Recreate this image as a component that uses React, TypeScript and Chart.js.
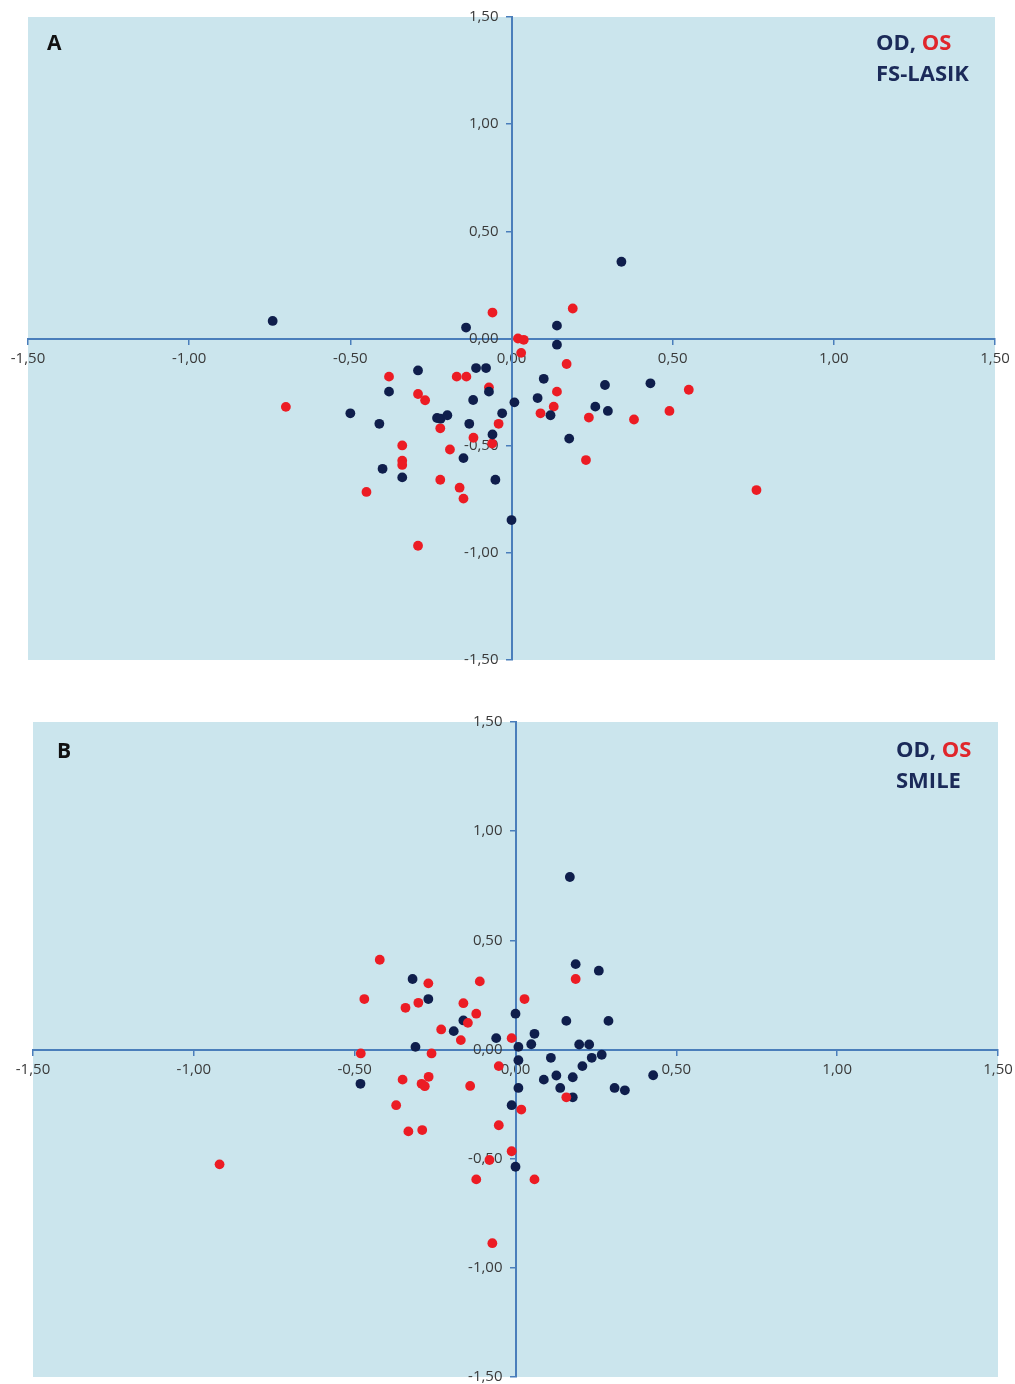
import React, { useEffect, useRef } from "react";
import { Chart, registerables } from "chart.js";

Chart.register(...registerables);

// ---------- Data ----------
const axisTicks = [-1.5, -1.0, -0.5, 0, 0.5, 1.0, 1.5];

// Panel A: FS-LASIK
const lasikOD_x = [-0.741, -0.141, -0.29, -0.11, -0.079, -0.38, -0.119, -0.07, 0.009, -0.5, -0.41, -0.231, -0.22, -0.199, -0.131, -0.029, -0.059, -0.149, -0.4, -0.339, -0.05, 0.0, 0.341, 0.141, 0.141, 0.1, 0.29, 0.431, 0.081, 0.26, 0.299, 0.121, 0.179];
const lasikOD_y = [0.082, 0.051, -0.149, -0.138, -0.138, -0.248, -0.287, -0.248, -0.298, -0.349, -0.398, -0.371, -0.374, -0.358, -0.398, -0.349, -0.448, -0.558, -0.608, -0.648, -0.659, -0.847, 0.358, 0.06, -0.029, -0.188, -0.217, -0.209, -0.278, -0.318, -0.338, -0.358, -0.467];
const lasikOS_x = [-0.059, 0.02, 0.038, 0.03, -0.38, -0.17, -0.14, -0.7, -0.29, -0.268, -0.07, -0.221, -0.04, -0.339, -0.118, -0.06, -0.191, -0.339, -0.339, -0.221, -0.161, -0.149, -0.45, -0.29, 0.19, 0.171, 0.141, 0.131, 0.09, 0.24, 0.38, 0.49, 0.55, 0.231, 0.76];
const lasikOS_y = [0.121, 0.0, -0.006, -0.067, -0.178, -0.178, -0.178, -0.319, -0.259, -0.288, -0.228, -0.419, -0.398, -0.499, -0.463, -0.49, -0.518, -0.57, -0.59, -0.659, -0.696, -0.747, -0.716, -0.967, 0.14, -0.119, -0.248, -0.318, -0.349, -0.369, -0.378, -0.338, -0.239, -0.567, -0.707];

// Panel B: SMILE
const smileOD_x = [-0.32, -0.271, -0.162, -0.192, -0.06, -0.311, -0.482, 0.0, 0.009, 0.009, 0.009, -0.012, 0.0, 0.049, 0.059, 0.169, 0.187, 0.259, 0.158, 0.289, 0.198, 0.229, 0.268, 0.237, 0.11, 0.208, 0.127, 0.088, 0.178, 0.428, 0.139, 0.308, 0.34, 0.178];
const smileOD_y = [0.323, 0.231, 0.133, 0.084, 0.052, 0.012, -0.157, 0.164, 0.012, -0.049, -0.176, -0.255, -0.537, 0.024, 0.072, 0.79, 0.391, 0.361, 0.131, 0.131, 0.023, 0.023, -0.024, -0.038, -0.038, -0.076, -0.119, -0.138, -0.127, -0.118, -0.176, -0.176, -0.187, -0.219];
const smileOS_x = [-0.422, -0.47, -0.342, -0.302, -0.271, -0.162, -0.111, -0.122, -0.148, -0.231, -0.17, -0.012, 0.028, -0.481, -0.261, -0.052, -0.351, -0.27, -0.292, -0.282, -0.141, -0.371, 0.018, -0.052, -0.333, -0.29, -0.012, -0.081, -0.122, 0.059, -0.92, -0.072, 0.158, 0.187];
const smileOS_y = [0.411, 0.231, 0.191, 0.214, 0.303, 0.212, 0.312, 0.164, 0.122, 0.092, 0.043, 0.052, 0.231, -0.018, -0.018, -0.076, -0.138, -0.125, -0.157, -0.168, -0.167, -0.255, -0.275, -0.347, -0.375, -0.369, -0.466, -0.506, -0.595, -0.595, -0.526, -0.887, -0.219, 0.323];

// ---------- Styles ----------
const NAVY = "#0f1e4c";
const RED = "#ec1c24";
const TEXT_NAVY = "#1b2a59";
const TEXT_RED = "#e0262b";
const PLOT_BG = "#cbe5ed";
const AXIS_BLUE = "#4a7ebb";

const fmt = (v: number) => v.toFixed(2).replace(".", ",");
const toPts = (xs: number[], ys: number[]) => xs.map((x, i) => ({ x, y: ys[i] }));

type PanelProps = {
  top: number;
  height: number;
  pad: { left: number; right: number; top: number; bottom: number };
  letter: string;
  letterPos: { x: number; y: number };
  label2: string;
  textX: number;
  textY: number;
  odX: number[];
  odY: number[];
  osX: number[];
  osY: number[];
  navyOnTop: boolean;
};

function ScatterPanel(p: PanelProps) {
  const ref = useRef<HTMLCanvasElement | null>(null);
  useEffect(() => {
    if (!ref.current) return;
    const od = {
      label: "OD",
      data: toPts(p.odX, p.odY),
      backgroundColor: NAVY,
      borderColor: NAVY,
      pointRadius: 4.9,
      borderWidth: 0,
    };
    const os = {
      label: "OS",
      data: toPts(p.osX, p.osY),
      backgroundColor: RED,
      borderColor: RED,
      pointRadius: 4.9,
      borderWidth: 0,
    };
    const bgPlugin = {
      id: "bg",
      beforeDraw(chart: any) {
        const { ctx, chartArea } = chart;
        ctx.save();
        ctx.fillStyle = PLOT_BG;
        ctx.fillRect(chartArea.left, chartArea.top, chartArea.right - chartArea.left, chartArea.bottom - chartArea.top);
        ctx.restore();
      },
    };
    const textPlugin = {
      id: "labels",
      afterDraw(chart: any) {
        const ctx = chart.ctx;
        ctx.save();
        ctx.textBaseline = "middle";
        ctx.textAlign = "left";
        ctx.font = "bold 21px 'Open Sans', sans-serif";
        ctx.fillStyle = "#111111";
        ctx.fillText(p.letter, p.letterPos.x, p.letterPos.y);
        ctx.font = "bold 22px 'Open Sans', sans-serif";
        ctx.fillStyle = TEXT_NAVY;
        const part1 = "OD, ";
        ctx.fillText(part1, p.textX, p.textY);
        const w = ctx.measureText(part1).width;
        ctx.fillStyle = TEXT_RED;
        ctx.fillText("OS", p.textX + w, p.textY);
        ctx.fillStyle = TEXT_NAVY;
        ctx.fillText(p.label2, p.textX, p.textY + 31);
        ctx.restore();
      },
    };
    const scaleCommon = {
      type: "linear" as const,
      min: -1.5,
      max: 1.5,
      position: "center" as const,
      afterBuildTicks(scale: any) {
        scale.ticks = axisTicks.map((v) => ({ value: v }));
      },
      grid: {
        display: true,
        drawOnChartArea: false,
        drawTicks: true,
        tickLength: 5,
        color: AXIS_BLUE,
        lineWidth: 1.5,
      },
      border: { display: true, color: AXIS_BLUE, width: 2 },
    };
    const chart = new Chart(ref.current, {
      type: "scatter",
      data: { datasets: p.navyOnTop ? [os, od] : [od, os] },
      options: {
        responsive: false,
        animation: false,
        devicePixelRatio: 1,
        layout: { padding: p.pad },
        plugins: { legend: { display: false }, tooltip: { enabled: false } },
        scales: {
          x: {
            ...scaleCommon,
            ticks: {
              callback: (v: any) => fmt(Number(v)),
              font: { family: "'Open Sans', sans-serif", size: 15 },
              color: "#3a3a3a",
              padding: 6,
              maxRotation: 0,
              autoSkip: false,
            },
          },
          y: {
            ...scaleCommon,
            ticks: {
              callback: (v: any) => fmt(Number(v)),
              font: { family: "'Open Sans', sans-serif", size: 15 },
              color: "#3a3a3a",
              padding: 8,
              autoSkip: false,
            },
          },
        },
      },
      plugins: [bgPlugin, textPlugin],
    });
    return () => chart.destroy();
  }, []);
  return (
    <canvas
      ref={ref}
      width={p.pad.left + p.pad.right + (p.pad.left === 28 ? 967 : 965)}
      height={p.height}
      style={{ position: "absolute", left: 0, top: p.top }}
    />
  );
}

export default function App() {
  return (
    <div
      style={{
        position: "absolute",
        left: 0,
        top: 0,
        width: 1015,
        height: 1384,
        overflow: "hidden",
        background: "#ffffff",
      }}
    >
      <ScatterPanel
        top={0}
        height={690}
        pad={{ left: 28, right: 45, top: 15, bottom: 30 }}
        letter="A"
        letterPos={{ x: 47, y: 44 }}
        label2="FS-LASIK"
        textX={876}
        textY={44}
        odX={lasikOD_x}
        odY={lasikOD_y}
        osX={lasikOS_x}
        osY={lasikOS_y}
        navyOnTop={false}
      />
      <ScatterPanel
        top={690}
        height={710}
        pad={{ left: 33, right: 42, top: 32, bottom: 23 }}
        letter="B"
        letterPos={{ x: 57, y: 62 }}
        label2="SMILE"
        textX={896}
        textY={61}
        odX={smileOD_x}
        odY={smileOD_y}
        osX={smileOS_x}
        osY={smileOS_y}
        navyOnTop={true}
      />
    </div>
  );
}
